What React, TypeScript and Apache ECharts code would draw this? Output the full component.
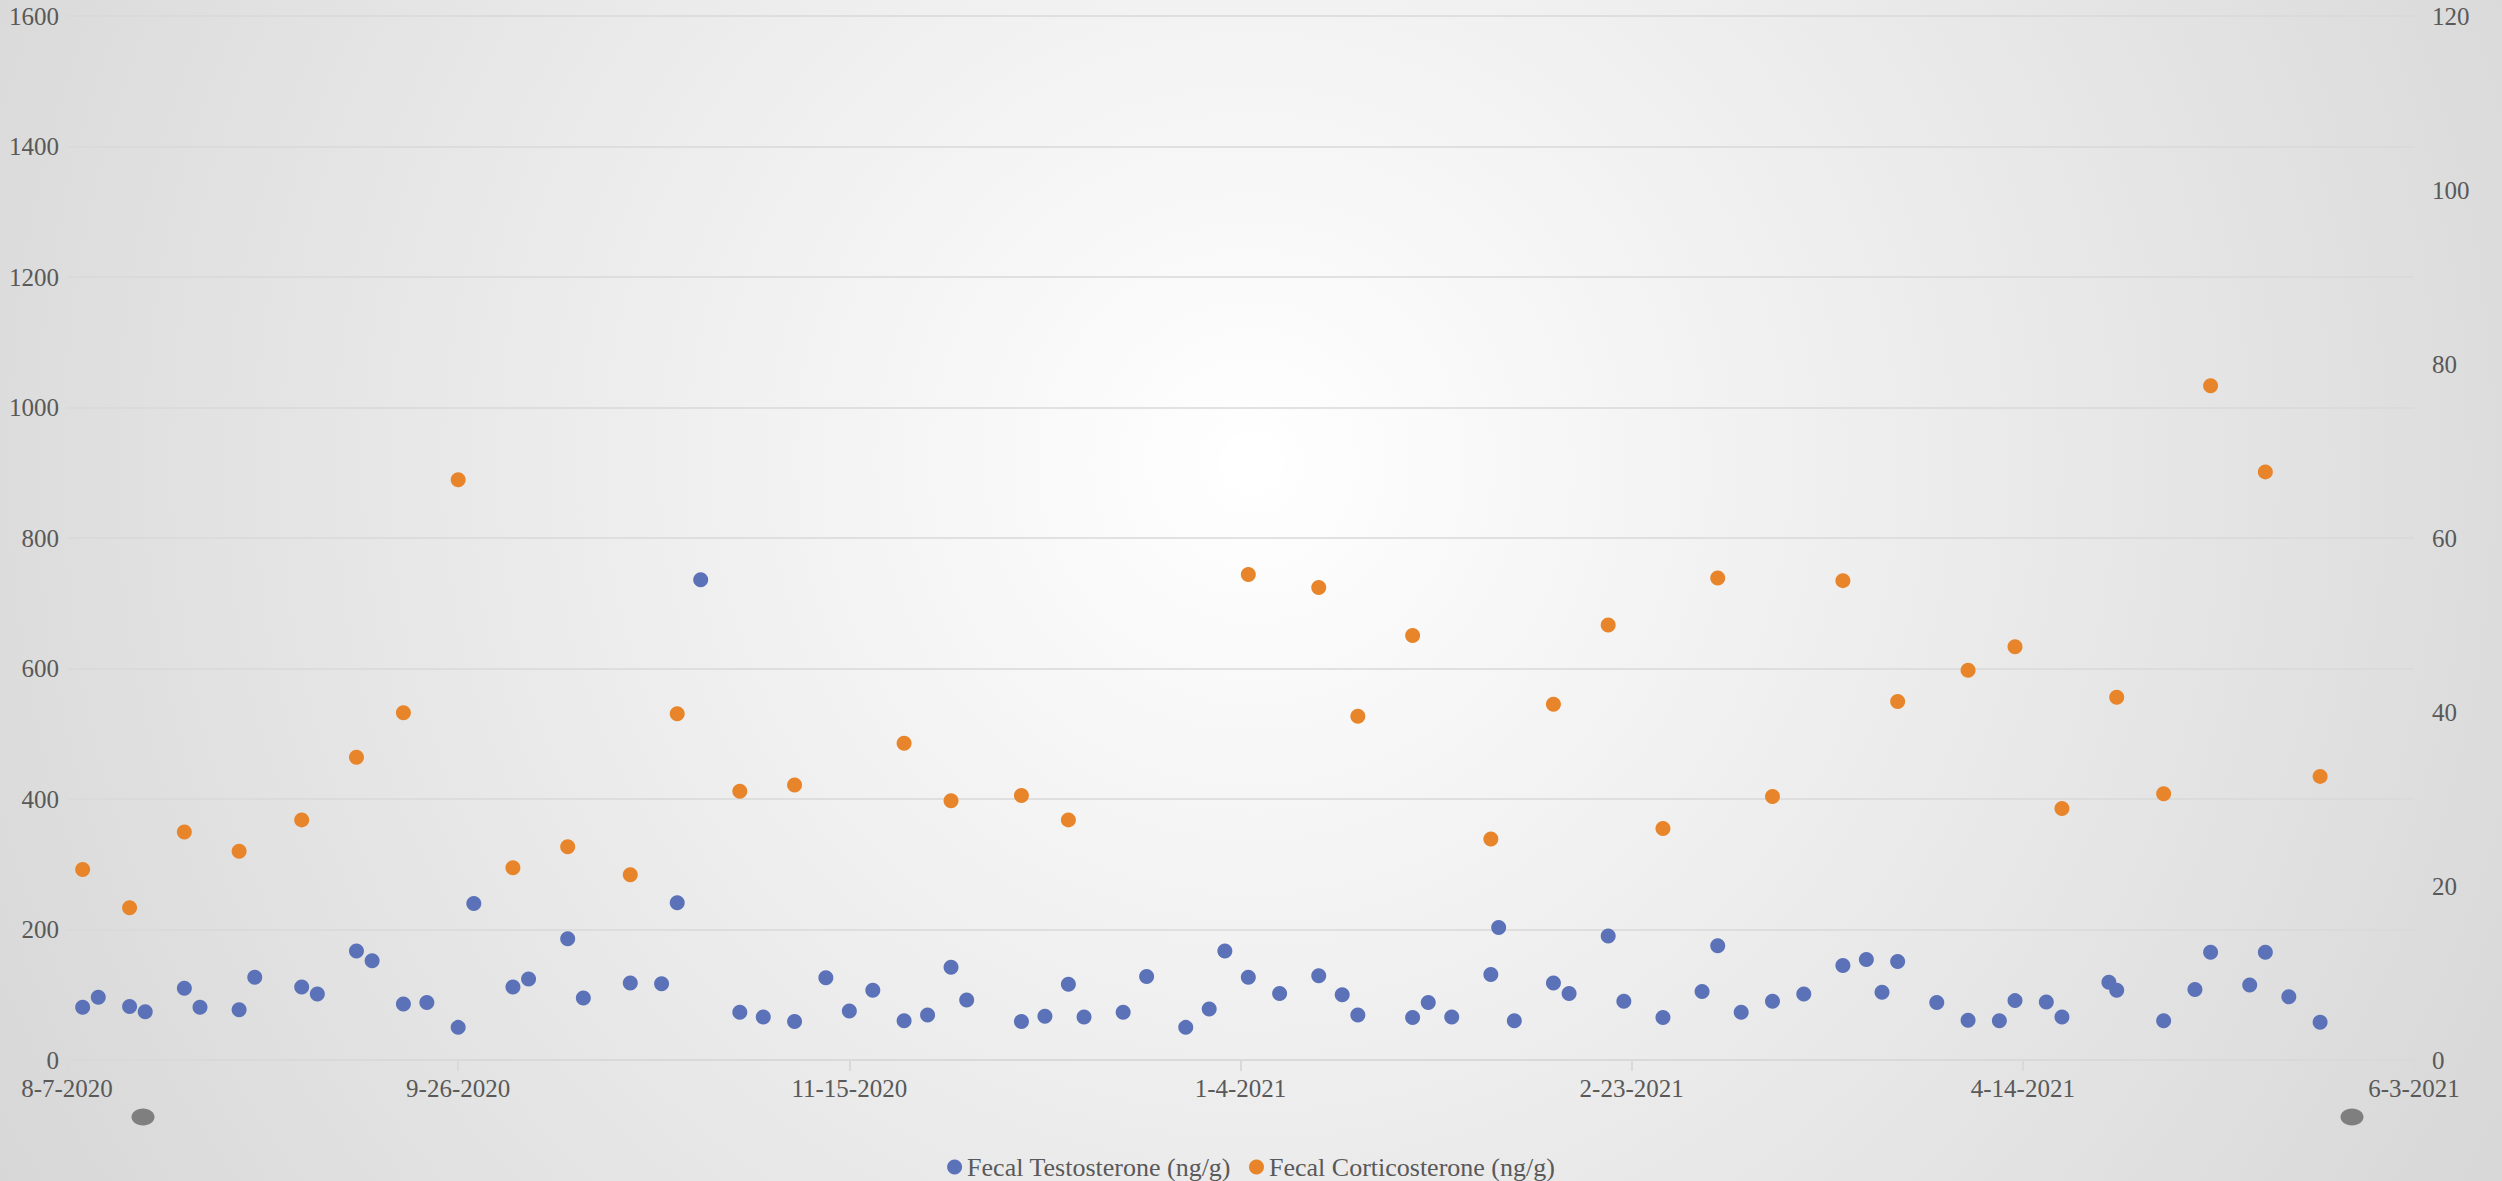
import React, { useEffect, useRef } from "react";
import * as echarts from "echarts";

const START_DATE = "2020-08-07";
const END_DATE = "2021-06-03";
const X_TICK_DAYS = 50;

const seriesNames = ["Fecal Testosterone (ng/g)", "Fecal Corticosterone (ng/g)"];
const leftAxisTicks = [0, 200, 400, 600, 800, 1000, 1200, 1400, 1600];
const rightAxisTicks = [0, 20, 40, 60, 80, 100, 120];

const testosteroneDates = [
  "2020-08-09", "2020-08-11", "2020-08-15", "2020-08-17", "2020-08-22", "2020-08-24", "2020-08-29", "2020-08-31", "2020-09-06", "2020-09-08",
  "2020-09-13", "2020-09-15", "2020-09-19", "2020-09-22", "2020-09-26", "2020-09-28", "2020-10-03", "2020-10-05", "2020-10-10", "2020-10-12",
  "2020-10-18", "2020-10-22", "2020-10-24", "2020-10-27", "2020-11-01", "2020-11-04", "2020-11-08", "2020-11-12", "2020-11-15", "2020-11-18",
  "2020-11-22", "2020-11-25", "2020-11-28", "2020-11-30", "2020-12-07", "2020-12-10", "2020-12-13", "2020-12-15", "2020-12-20", "2020-12-23",
  "2020-12-28", "2020-12-31", "2021-01-02", "2021-01-05", "2021-01-09", "2021-01-14", "2021-01-17", "2021-01-19", "2021-01-26", "2021-01-28",
  "2021-01-31", "2021-02-05", "2021-02-06", "2021-02-08", "2021-02-13", "2021-02-15", "2021-02-20", "2021-02-22", "2021-02-27", "2021-03-04",
  "2021-03-06", "2021-03-09", "2021-03-13", "2021-03-17", "2021-03-22", "2021-03-25", "2021-03-27", "2021-03-29", "2021-04-03", "2021-04-07",
  "2021-04-11", "2021-04-13", "2021-04-17", "2021-04-19", "2021-04-25", "2021-04-26", "2021-05-02", "2021-05-06", "2021-05-08", "2021-05-13",
  "2021-05-15", "2021-05-18", "2021-05-22",
];
const testosteroneValues = [
  81, 96, 82, 74, 110, 81, 77, 127, 112, 101,
  167, 152, 86, 88, 50, 240, 112, 124, 186, 95,
  118, 117, 241, 736, 73, 66, 59, 126, 75, 107,
  60, 69, 142, 92, 59, 67, 116, 66, 73, 128,
  50, 78, 167, 127, 102, 129, 100, 69, 65, 88,
  66, 131, 203, 60, 118, 102, 190, 90, 65, 105,
  175, 73, 90, 101, 145, 154, 104, 151, 88, 61,
  60, 91, 89, 66, 119, 107, 60, 108, 165, 115,
  165, 97, 58,
];

const corticosteroneDates = [
  "2020-08-09", "2020-08-15", "2020-08-22", "2020-08-29", "2020-09-06", "2020-09-13", "2020-09-19", "2020-09-26", "2020-10-03", "2020-10-10",
  "2020-10-18", "2020-10-24", "2020-11-01", "2020-11-08", "2020-11-22", "2020-11-28", "2020-12-07", "2020-12-13", "2021-01-05", "2021-01-14",
  "2021-01-19", "2021-01-26", "2021-02-05", "2021-02-13", "2021-02-20", "2021-02-27", "2021-03-06", "2021-03-13", "2021-03-22", "2021-03-29",
  "2021-04-07", "2021-04-13", "2021-04-19", "2021-04-26", "2021-05-02", "2021-05-08", "2021-05-15", "2021-05-22",
];
const corticosteroneValues = [
  21.9, 17.5, 26.2, 24.0, 27.6, 34.8, 39.9, 66.7, 22.1, 24.5,
  21.3, 39.8, 30.9, 31.6, 36.4, 29.8, 30.4, 27.6, 55.8, 54.3,
  39.5, 48.8, 25.4, 40.9, 50.0, 26.6, 55.4, 30.3, 55.1, 41.2,
  44.8, 47.5, 28.9, 41.7, 30.6, 77.5, 67.6, 32.6,
];

const DAY_MS = 86400000;
const startMs = Date.parse(START_DATE + "T00:00:00Z");
const dayOf = (d: string) => Math.round((Date.parse(d + "T00:00:00Z") - startMs) / DAY_MS);
const fmtDay = (day: number) => {
  const t = new Date(startMs + day * DAY_MS);
  return `${t.getUTCMonth() + 1}-${t.getUTCDate()}-${t.getUTCFullYear()}`;
};

const FONT = "'Liberation Serif', 'Times New Roman', serif";
const LABEL_COLOR = "#595959";
const GRID_COLOR = "#d9d9d9";

export default function App() {
  const ref = useRef<HTMLDivElement>(null);
  useEffect(() => {
    if (!ref.current) return;
    const chart = echarts.init(ref.current, null, { renderer: "svg" });
    const tData = testosteroneDates.map((d, i) => [dayOf(d), testosteroneValues[i]]);
    const cData = corticosteroneDates.map((d, i) => [dayOf(d), corticosteroneValues[i]]);
    const endDay = dayOf(END_DATE);
    chart.setOption({
      animation: false,
      backgroundColor: "transparent",
      textStyle: { fontFamily: FONT },
      grid: { left: 67, right: 88, top: 16, bottom: 121, containLabel: false },
      legend: {
        data: seriesNames,
        left: "center",
        top: 1149,
        icon: "circle",
        itemWidth: 15,
        itemHeight: 15,
        itemGap: 18,
        textStyle: { fontFamily: FONT, fontSize: 26, color: LABEL_COLOR },
      },
      xAxis: {
        type: "value",
        min: 0,
        max: endDay,
        interval: X_TICK_DAYS,
        splitLine: { show: false },
        axisLine: { show: true, onZero: false, lineStyle: { color: GRID_COLOR, width: 2 } },
        axisTick: { show: true, length: 11, lineStyle: { color: GRID_COLOR, width: 2 } },
        axisLabel: {
          fontFamily: FONT,
          fontSize: 25,
          color: LABEL_COLOR,
          margin: 16,
          showMinLabel: true,
          showMaxLabel: true,
          formatter: (v: number) => fmtDay(v),
        },
      },
      yAxis: [
        {
          type: "value",
          min: leftAxisTicks[0],
          max: leftAxisTicks[leftAxisTicks.length - 1],
          interval: leftAxisTicks[1] - leftAxisTicks[0],
          axisLine: { show: false },
          axisTick: { show: false },
          splitLine: { show: true, lineStyle: { color: GRID_COLOR, width: 1.5 } },
          axisLabel: { fontFamily: FONT, fontSize: 25, color: LABEL_COLOR, margin: 8, formatter: (v: number) => String(v) },
        },
        {
          type: "value",
          position: "right",
          min: rightAxisTicks[0],
          max: rightAxisTicks[rightAxisTicks.length - 1],
          interval: rightAxisTicks[1] - rightAxisTicks[0],
          axisLine: { show: false },
          axisTick: { show: false },
          splitLine: { show: false },
          axisLabel: { fontFamily: FONT, fontSize: 25, color: LABEL_COLOR, margin: 18, formatter: (v: number) => String(v) },
        },
      ],
      graphic: [
        {
          type: "circle",
          shape: { cx: 1252, cy: 463, r: 42 },
          silent: true,
          z: -1,
          style: {
            fill: new echarts.graphic.RadialGradient(0.5, 0.5, 0.5, [
              { offset: 0, color: "rgba(255,255,255,1)" },
              { offset: 0.55, color: "rgba(255,255,255,1)" },
              { offset: 1, color: "rgba(255,255,255,0)" },
            ]),
          },
        },
        { type: "ellipse", shape: { cx: 143, cy: 1117, rx: 11.5, ry: 8.5 }, silent: true, style: { fill: "#7f7f7f" } },
        { type: "ellipse", shape: { cx: 2352, cy: 1117, rx: 11.5, ry: 8.5 }, silent: true, style: { fill: "#7f7f7f" } },
      ],
      series: [
        {
          name: seriesNames[0],
          type: "scatter",
          yAxisIndex: 0,
          symbol: "circle",
          symbolSize: 15,
          itemStyle: { color: "#5b72b8", opacity: 1 },
          data: tData,
        },
        {
          name: seriesNames[1],
          type: "scatter",
          yAxisIndex: 1,
          symbol: "circle",
          symbolSize: 15,
          itemStyle: { color: "#e8852a", opacity: 1 },
          data: cData,
        },
      ],
    });
    return () => chart.dispose();
  }, []);
  return (
    <div
      ref={ref}
      style={{
        position: "absolute",
        left: 0,
        top: 0,
        width: 2502,
        height: 1181,
        background: "radial-gradient(circle 1480px at 1252px 463px, #ffffff 0%, #d6d6d6 100%)",
      }}
    />
  );
}
